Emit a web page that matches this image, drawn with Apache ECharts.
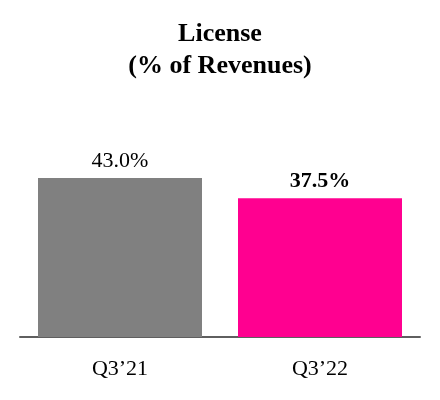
<!DOCTYPE html>
<html>
<head>
<meta charset="utf-8">
<script src="https://cdn.jsdelivr.net/npm/echarts@6/dist/echarts.min.js"></script>
<style>html,body{margin:0;padding:0;background:#fff;}#c{width:440px;height:400px;}</style>
</head>
<body>
<div id="c"></div>
<script>
const categories = ['Q3\u201921', 'Q3\u201922'];
const values = [43.0, 37.5];
const valueLabels = ['43.0%', '37.5%'];
const barColors = ['#808080', '#FF0090'];
const labelBold = [false, true];

const chart = echarts.init(document.getElementById('c'), null, {renderer: 'canvas'});
const serif = "'Liberation Serif', 'Times New Roman', serif";
chart.setOption({
  animation: false,
  title: {
    text: 'License\n(% of Revenues)',
    left: 'center',
    top: 13,
    textStyle: {fontFamily: serif, fontWeight: 'bold', fontSize: 26, lineHeight: 32, color: '#000'}
  },
  grid: {left: 20, right: 20, top: 115, bottom: 63},
  xAxis: {
    type: 'category',
    data: categories,
    axisLine: {lineStyle: {color: '#5f5f5f', width: 2}},
    axisTick: {show: false},
    axisLabel: {fontFamily: serif, fontSize: 22, color: '#000', margin: 21}
  },
  yAxis: {type: 'value', min: 0, max: 60, show: false, splitLine: {show: false}},
  series: [{
    type: 'bar',
    barWidth: '82%',
    data: values.map((v, i) => ({
      value: v,
      itemStyle: {color: barColors[i]},
      label: {
        show: true,
        position: 'top',
        distance: 6,
        formatter: valueLabels[i],
        fontFamily: serif,
        fontSize: 22,
        fontWeight: labelBold[i] ? 'bold' : 'normal',
        color: '#000'
      }
    }))
  }]
});
</script>
</body>
</html>
